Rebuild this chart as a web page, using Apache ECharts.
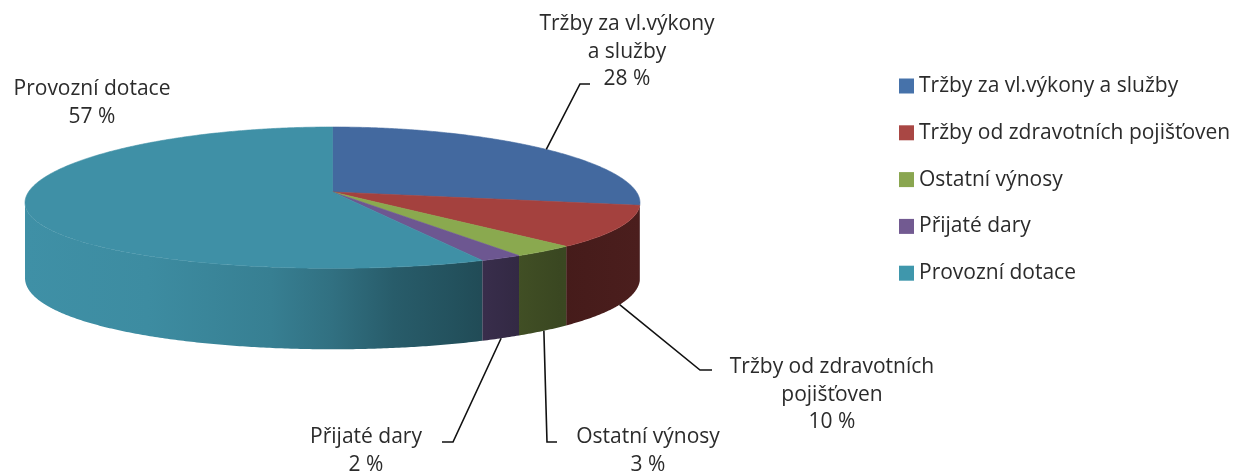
<!DOCTYPE html>
<html><head><meta charset="utf-8">
<script src="https://cdn.jsdelivr.net/npm/echarts@6/dist/echarts.min.js"></script>
<style>html,body{margin:0;padding:0;background:#fff}#c{width:1245px;height:474px}</style>
</head><body><div id="c"></div>
<script>
// ---- data ----
const categories = ['Tržby za vl.výkony a služby', 'Tržby od zdravotních pojišťoven', 'Ostatní výnosy', 'Přijaté dary', 'Provozní dotace'];
const values = [28, 10, 3, 2, 57];
const labelTexts = ['Tržby za vl.výkony\na služby', 'Tržby od zdravotních\npojišťoven', 'Ostatní výnosy', 'Přijaté dary', 'Provozní dotace'];

// ---- style ----
const topColors = ['#43699F', '#A4413E', '#8AA94F', '#6D5791', '#3F90A6'];
const legendColors = ['#4672AA', '#A94744', '#8AA650', '#725A91', '#3F97AC'];
const FONT = '"Open Sans", "Noto Sans", sans-serif';
const FONT_SIZE = 21;
const TEXT_COLOR = '#2b2b2b';
// 3D projection parameters (layout)
const G = { cx: 332.5, cy: 192, K: 304, Ky: 70.2, ax: 0.15, ay: 0.08, H: 74.5 };
const labelLayout = [
  { rim: 'top', elbow: [580, 84], end: [590, 84], text: [627, 52] },
  { rim: 'bottom', elbow: [700, 370], end: [712, 370], text: [832, 395] },
  { rim: 'bottom', elbow: [547, 442], end: [557, 442], text: [648, 451] },
  { rim: 'bottom', elbow: [453, 442], end: [442, 442], text: [366, 451] },
  { rim: null, text: [92, 103] }
];
const shadeStops = [[0, 1.0], [0.2, 0.97], [0.4, 0.88], [0.5, 0.78], [0.6, 0.64], [0.7, 0.56], [0.8, 0.47], [0.87, 0.42], [1, 0.46]];

const total = values.reduce((p, c) => p + c, 0);
const starts = []; { let acc = 0; values.forEach(v => { starts.push(acc / total * 360); acc += v; }); }
const SIDE_LO = Math.acos(-G.ax) * 180 / Math.PI, SIDE_HI = 360 - SIDE_LO;
const XMAX = G.K / Math.sqrt(1 - G.ax * G.ax);

function proj(theta, bottom) {
  const r = theta * Math.PI / 180, c = Math.cos(r), s = Math.sin(r);
  const sy = 1 / (1 + G.ay * c);
  return [G.cx + G.K * s / (1 + G.ax * c), G.cy - G.Ky * c * sy + (bottom ? G.H * sy : 0)];
}
function arc(a, b, bottom, pts) {
  const n = Math.max(1, Math.ceil(Math.abs(b - a) / 0.5));
  for (let k = 0; k <= n; k++) pts.push(proj(a + (b - a) * k / n, bottom));
}
function shade(hex, f) {
  const n = parseInt(hex.slice(1), 16);
  const r = (n >> 16) & 255, g = (n >> 8) & 255, b = n & 255;
  return 'rgb(' + Math.round(r * f) + ',' + Math.round(g * f) + ',' + Math.round(b * f) + ')';
}
function sideGrad(hex) {
  return { type: 'linear', x: G.cx - XMAX, y: 0, x2: G.cx + XMAX, y2: 0, global: true,
    colorStops: shadeStops.map(s => ({ offset: s[0], color: shade(hex, s[1]) })) };
}

function renderSlice(i) {
  return function () {
    const children = [];
    const t0 = starts[i], t1 = starts[i] + values[i] / total * 360;
    const lo = Math.max(t0, SIDE_LO), hi = Math.min(t1, SIDE_HI);
    if (hi > lo) {
      const pts = []; arc(lo, hi, false, pts); arc(hi, lo, true, pts);
      children.push({ type: 'polygon', z2: 1, shape: { points: pts },
        style: { fill: sideGrad(topColors[i]), stroke: null } });
    }
    const top = [[G.cx, G.cy]]; arc(t0, t1, false, top);
    children.push({ type: 'polygon', z2: 2, shape: { points: top },
      style: { fill: topColors[i], stroke: topColors[i], lineWidth: 0.6 } });
    const L = labelLayout[i];
    if (L.rim) {
      const mid = (t0 + t1) / 2;
      const anchor = proj(mid, L.rim === 'bottom');
      children.push({ type: 'polyline', z2: 3, shape: { points: [anchor, L.elbow, L.end] },
        style: { stroke: '#111', lineWidth: 1.6, fill: null } });
    }
    const pct = Math.round(values[i] / total * 100);
    children.push({ type: 'text', z2: 4, style: {
      text: labelTexts[i] + '\n' + pct + ' %', x: L.text[0], y: L.text[1],
      align: 'center', verticalAlign: 'middle', fontFamily: FONT, fontSize: FONT_SIZE,
      lineHeight: 27.5, fill: TEXT_COLOR } });
    return { type: 'group', children };
  };
}

const chart = echarts.init(document.getElementById('c'), null, { renderer: 'canvas' });
chart.setOption({
  animation: false,
  backgroundColor: '#ffffff',
  color: legendColors,
  legend: {
    orient: 'vertical', left: 894, top: 70.5, itemWidth: 15, itemHeight: 15, itemGap: 25.8,
    icon: 'rect', selectedMode: false,
    data: categories.map((c, i) => ({ name: c, itemStyle: { color: legendColors[i] } })),
    textStyle: { fontFamily: FONT, fontSize: FONT_SIZE, lineHeight: 20, color: TEXT_COLOR }
  },
  series: categories.map((c, i) => ({
    type: 'custom', name: c, coordinateSystem: 'none', silent: true,
    itemStyle: { color: legendColors[i] },
    data: [values[i]],
    renderItem: renderSlice(i)
  }))
});
</script></body></html>
